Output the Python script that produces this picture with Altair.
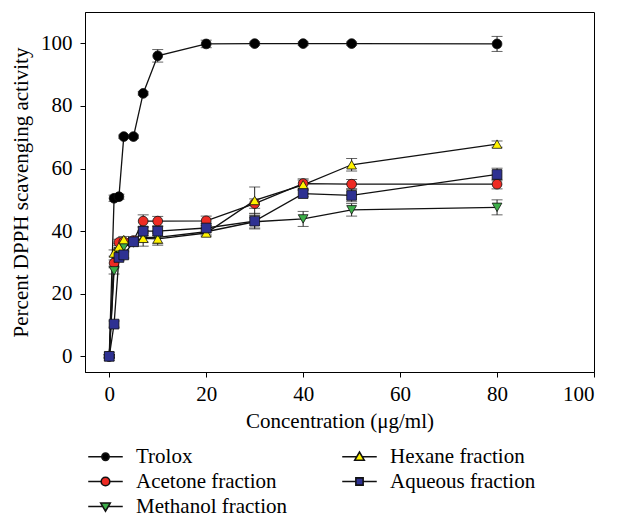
import altair as alt
import pandas as pd

conc = [0, 1, 2, 3, 5, 7, 10, 20, 30, 40, 50, 80]

series_names = ["Trolox", "Acetone fraction", "Methanol fraction", "Hexane fraction", "Aqueous fraction"]

trolox = [0, 50.5, 51.0, 70.2, 70.2, 84.0, 96.0, 99.8, 99.9, 99.9, 99.9, 99.8]
trolox_err = [0.5, 1.0, 0.8, 0.5, 0.5, 0.5, 2.0, 1.2, 0.5, 0.5, 0.5, 2.4]
acetone = [0, 29.8, 36.4, 36.6, 37.0, 43.2, 43.2, 43.3, 48.8, 55.2, 55.0, 55.0]
acetone_err = [0.5, 1.0, 1.0, 1.0, 1.0, 2.0, 1.5, 1.5, 1.5, 1.5, 1.5, 1.5]
methanol = [0, 27.3, 33.5, 35.0, 36.2, 38.0, 38.0, 39.8, 43.0, 43.9, 46.8, 47.6]
methanol_err = [0.5, 1.0, 1.0, 1.0, 1.0, 1.5, 2.0, 1.0, 2.0, 2.4, 2.0, 2.4]
hexane = [0, 33.0, 35.0, 37.3, 37.0, 37.7, 37.5, 39.4, 49.8, 54.8, 61.2, 67.8]
hexane_err = [0.5, 1.0, 1.0, 1.0, 1.0, 2.5, 2.0, 1.0, 4.3, 1.5, 2.0, 1.0]
aqueous = [0, 10.3, 31.6, 32.4, 36.6, 40.0, 40.0, 41.0, 43.2, 52.0, 51.4, 58.1]
aqueous_err = [0.5, 1.0, 1.0, 1.0, 1.0, 1.5, 1.5, 1.5, 2.5, 1.0, 2.0, 2.0]

x_ticks = [0, 20, 40, 60, 80, 100]
y_ticks = [0, 20, 40, 60, 80, 100]

colors = ["#000000", "#EE2B24", "#3DAE49", "#FFF200", "#2E3192"]
plot_shapes = ["circle", "circle", "triangle-down", "triangle-up", "square"]


def circ(r):
    k = round(0.5523 * r, 4)
    return (f"M{-r},0C{-r},{-k} {-k},{-r} 0,{-r}C{k},{-r} {r},{-k} {r},0"
            f"C{r},{k} {k},{r} 0,{r}C{-k},{r} {-r},{k} {-r},0Z")


# legend glyphs: a line through a marker
leg_small_circle = "M-2,0L-0.42,0M0.42,0L2,0" + circ(0.42)
leg_circle = "M-2,0L-0.5,0M0.5,0L2,0" + circ(0.5)
leg_tri_up = "M-2,0L-0.32,0M0.32,0L2,0M-0.55,0.4L0,-0.55L0.55,0.4Z"
leg_tri_down = "M-2,0L-0.32,0M0.32,0L2,0M-0.55,-0.4L0.55,-0.4L0,0.55Z"
leg_square = "M-2,0L-0.42,0M0.42,0L2,0M-0.42,-0.42L0.42,-0.42L0.42,0.42L-0.42,0.42Z"
legend_shapes = [leg_small_circle, leg_circle, leg_tri_down, leg_tri_up, leg_square]

values = [trolox, acetone, methanol, hexane, aqueous]
errs = [trolox_err, acetone_err, methanol_err, hexane_err, aqueous_err]

rows = []
for k, name in enumerate(series_names):
    for c, v, e in zip(conc, values[k], errs[k]):
        rows.append({"series": name, "legend": name, "order": k, "conc": c, "val": v,
                     "lo": v - e, "hi": v + e})
df = pd.DataFrame(rows)

FONT = "Liberation Serif"
FS = 21

xscale = alt.Scale(domain=[-5, 100], nice=False, zero=False)
yscale = alt.Scale(domain=[-5, 110], nice=False, zero=False)

xaxis = alt.Axis(values=x_ticks, title="Concentration (\u03bcg/ml)", grid=False,
                 labelPadding=6, titlePadding=6, format="d")
yaxis = alt.Axis(values=y_ticks, title="Percent DPPH scavenging activity", grid=False,
                 labelPadding=8, titlePadding=9, format="d")

base = alt.Chart(df)

err_rule = base.mark_rule(color="#222222", strokeWidth=1).encode(
    x=alt.X("conc:Q", scale=xscale, axis=xaxis),
    y=alt.Y("lo:Q", scale=yscale, axis=yaxis),
    y2="hi:Q",
)
cap_lo = base.mark_tick(color="#222222", thickness=1, size=11, orient="horizontal").encode(
    x="conc:Q", y="lo:Q")
cap_hi = base.mark_tick(color="#222222", thickness=1, size=11, orient="horizontal").encode(
    x="conc:Q", y="hi:Q")

lines = base.mark_line(color="#111111", strokeWidth=1.3).encode(
    x="conc:Q", y="val:Q", detail="series:N", order="conc:Q")

points = base.mark_point(filled=True, stroke="#111111", strokeWidth=0.8, size=95, opacity=1).encode(
    x="conc:Q",
    y="val:Q",
    fill=alt.Fill("series:N", scale=alt.Scale(domain=series_names, range=colors), legend=None),
    shape=alt.Shape("series:N", scale=alt.Scale(domain=series_names, range=plot_shapes), legend=None),
    order="order:Q",
)


def make_legend():
    return alt.Legend(title="", orient="none", legendX=10, legendY=434,
                      columns=2, columnPadding=51, rowPadding=3,
                      labelOffset=20, labelFont=FONT, labelFontSize=FS,
                      labelColor="black", symbolOpacity=1, symbolSize=298,
                      symbolStrokeColor="#111111", symbolStrokeWidth=1.6,
                      values=series_names, padding=0)


legend_layer = base.mark_point(filled=True, strokeWidth=1.6, size=298, opacity=0).encode(
    x="conc:Q",
    y="val:Q",
    fill=alt.Fill("legend:N", scale=alt.Scale(domain=series_names, range=colors),
                  legend=make_legend()),
    stroke=alt.Stroke("legend:N", scale=alt.Scale(domain=series_names, range=["#111111"] * 5),
                      legend=make_legend()),
    shape=alt.Shape("legend:N", scale=alt.Scale(domain=series_names, range=legend_shapes),
                    legend=make_legend()),
)

chart = alt.layer(err_rule, cap_lo, cap_hi, lines, legend_layer, points).resolve_scale(
    fill="independent", shape="independent", stroke="independent"
).properties(
    width=509, height=360,
    autosize="none",
    padding={"left": 77, "top": 4, "right": 16, "bottom": 146},
).configure_view(
    stroke="black", strokeWidth=1
).configure_axis(
    labelFont=FONT, titleFont=FONT, labelFontSize=FS, titleFontSize=FS,
    labelColor="black", titleColor="black", titleFontWeight="normal",
    domainColor="black", tickColor="black", tickSize=5, tickWidth=1,
)

chart.save("out.html", embed_options={"renderer": "svg", "actions": False})
